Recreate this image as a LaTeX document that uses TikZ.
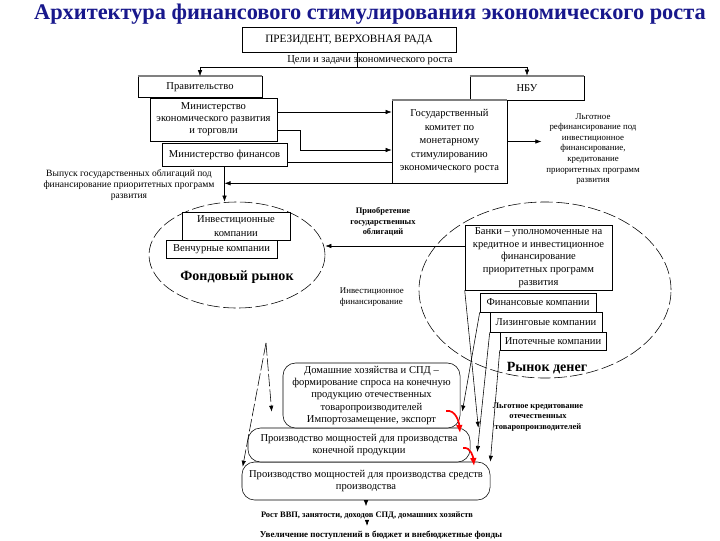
\documentclass[tikz,border=0pt]{standalone}
\usepackage{fontspec}
\setmainfont{Liberation Serif}
\usepackage{tikz}
\usetikzlibrary{positioning, arrows.meta, calc, shapes.geometric}

\definecolor{titleblue}{RGB}{24,24,140}

\begin{document}
\begin{tikzpicture}[
  x=0.025cm, y=-0.025cm,
  font=\fontsize{7.5}{8.6}\selectfont,
  unit/.style={draw, thin, fill=white, align=center, inner sep=1pt},
  market/.style={draw, ellipse, thin, dash pattern=on 9pt off 2.5pt},
  stage/.style={draw, thin, fill=white, rounded corners=9pt, align=center,
                inner sep=1pt},
  flow/.style={-{Latex[length=1.5mm, width=1.1mm]}, thin},
  note/.style={align=center, font=\fontsize{6.3}{7.5}\selectfont},
  bnote/.style={align=center, font=\bfseries\fontsize{6}{7.4}\selectfont},
  mlabel/.style={font=\bfseries\fontsize{10}{12}\selectfont},
  hint/.style={-{Latex[length=2mm, width=1.7mm]}, red, very thick},
  topline/.style={gray, line width=1.3pt},
]
\useasboundingbox (0,0) rectangle (720,540);

\node[font=\bfseries\fontsize{15.9}{19}\selectfont, text=titleblue] (title)
  at (370,14) {Архитектура финансового стимулирования экономического роста};

% Top: president and goals
\node[unit, minimum width=5.35cm, minimum height=0.625cm,
      font=\fontsize{8}{9}\selectfont] (pres) at (349,40)
  {ПРЕЗИДЕНТ, ВЕРХОВНАЯ РАДА};
\node (goals) at (370,60) {Цели и задачи экономического роста};
\coordinate (split) at (357,67);

% Left: government
\node[unit, minimum width=3.1cm, minimum height=0.525cm] (gov) at (200,87)
  {Правительство};
\node[unit, minimum width=3.175cm, minimum height=1.075cm] (minek)
  at (213.5,119.5) {Министерство\\экономического развития\\и торговли};
\node[unit, minimum width=3.125cm, minimum height=0.575cm] (minfin)
  at (224.5,154.5) {Министерство финансов};

% Right: national bank and committee
\node[unit, minimum width=2.85cm, minimum height=0.6cm] (nbu) at (527,88) {НБУ};
\node[unit, minimum width=2.875cm, minimum height=2.075cm,
      font=\fontsize{7.5}{9.6}\selectfont] (gosk) at (449.5,141.5)
  {Государственный\\комитет по\\монетарному\\стимулированию\\экономического роста};
\draw[topline] (gov.north west) -- (gov.north east);
\draw[topline] (nbu.north west) -- (nbu.north east);
\draw[topline] (gosk.north west) -- (gosk.north east);

\node[note] (refin) at (593,149) {Льготное\\рефинансирование под\\инвестиционное\\финансирование,\\кредитование\\приоритетных программ\\развития};
\node[note, font=\fontsize{6.8}{7.8}\selectfont] (vyp) at (129,185)
  {Выпуск государственных облигаций под\\финансирование приоритетных программ\\развития};

\draw (split |- pres.south) -- (split);
\draw[flow] (split) -| (gov.north);
\draw[flow] (split) -| (nbu.north);
\draw[flow] (minek.east |- 0,112) -- (gosk.west |- 0,112);
\draw[flow] (minek.east |- 0,130) -- ++(23,0) |- (gosk.west |- 0,150);
\draw (minfin.east |- 0,162) -- (gosk.west |- 0,162);
\draw[flow] (gosk.east) -- (gosk.east -| refin.west);

% Stock market
\node[market, minimum width=4.4cm, minimum height=2.65cm] (fond) at (237,255) {};
\node[unit, minimum width=2.7cm, minimum height=0.7cm,
      font=\fontsize{7.5}{10}\selectfont] (invk) at (236,226.5)
  {Инвестиционные\\компании};
\node[unit, minimum width=2.775cm, minimum height=0.45cm] (venk) at (221.5,249)
  {Венчурные компании};
\node[mlabel] (fondlbl) at (237,277) {Фондовый рынок};
\draw[flow] (minfin.south) -- (minfin.south |- fond.north);
\draw[flow] (gosk.south west) -- (gosk.south west -| minfin.south);

% Money market
\node[market, minimum width=6.3cm, minimum height=4.4cm] (money) at (545,290) {};
\node[unit, minimum width=3.675cm, minimum height=1.625cm,
      font=\fontsize{7.5}{9}\selectfont] (banki) at (538.5,257.5)
  {Банки -- уполномоченные на\\кредитное и инвестиционное\\финансирование\\приоритетных программ\\развития};
\node[unit, minimum width=2.9cm, minimum height=0.475cm] (finc) at (538,302.5)
  {Финансовые компании};
\node[unit, minimum width=2.8cm, minimum height=0.5cm] (lizc) at (546,322)
  {Лизинговые компании};
\node[unit, minimum width=2.65cm, minimum height=0.45cm] (ipot) at (553,341)
  {Ипотечные компании};
\node[mlabel] (moneylbl) at (547,368) {Рынок денег};

\node[bnote] (prgo) at (383,222) {Приобретение\\государственных\\облигаций};
\draw[flow] (banki.west |- 0,246) -- (fond.east |- 0,246);
\node[note, align=left, anchor=west] (invfin) at (335,297)
  {Инвестиционное\\финансирование};
\node[bnote] (lgkred) at (538,417) {Льготное кредитование\\отечественных\\товаропроизводителей};

% Bottom: demand and production
\node[stage, minimum width=6.2cm, minimum height=0.95cm] (sred) at (366,481)
  {Производство мощностей для производства средств\\производства};
\node[stage, minimum width=5.55cm, minimum height=0.85cm] (kon) at (359,445)
  {Производство мощностей для производства\\конечной продукции};
\node[stage, minimum width=4.425cm, minimum height=1.625cm] (dom) at (371.5,395.5)
  {Домашние хозяйства и СПД --\\формирование спроса на конечную\\продукцию отечественных\\товаропроизводителей\\Импортозамещение, экспорт};

\node[bnote] (vvp) at (367,515) {Рост ВВП, занятости, доходов СПД, домашних хозяйств};
\node[bnote, font=\bfseries\fontsize{6.4}{7.6}\selectfont] (uvel) at (381,535)
  {Увеличение поступлений в бюджет и внебюджетные фонды};
\draw[flow] (sred.south) -- (sred.south |- vvp.north);
\draw[flow] (vvp.south) -- (vvp.south |- uvel.north);

% money market to production
\draw[flow] (banki.south west) -- ($(kon.north east)+(8,0)$);
\draw[flow] (finc.south west) -- ($(dom.east)+(2,16)$);
\draw[flow] (lizc.south west) -- ($(kon.east)+(7,7)$);
\draw[flow] (ipot.south west) -- (sred.north east);

% stock market to production
\coordinate (src) at (266,343);
\draw[flow, dash pattern=on 9pt off 2pt] (src) -- ($(kon.north west)+(24,-16)$);
\draw[flow, dash pattern=on 9pt off 2pt] (src) -- ($(sred.north west)+(1,5)$);

% red marks
\coordinate (r1) at (446,411);
\coordinate (r2) at (463,448);
\draw[hint] (r1) to[out=10, in=95] ++(14,22);
\draw[hint] (r2) to[out=10, in=95] ++(11,18);

\end{tikzpicture}
\end{document}
